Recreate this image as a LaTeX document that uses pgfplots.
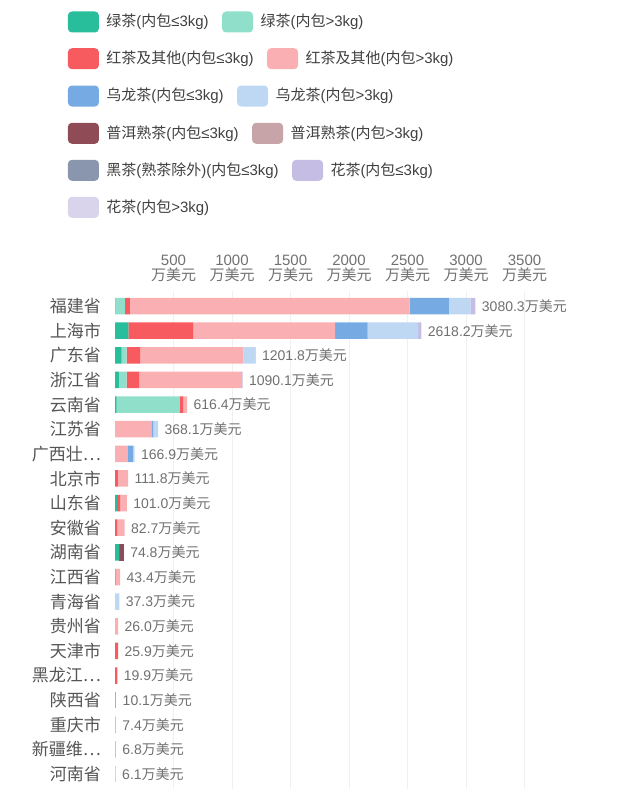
\documentclass[border=0pt]{standalone}
\usepackage{fontspec}
\setmainfont{Liberation Sans}
\newfontfamily\cjk{Noto Sans CJK SC}
\usepackage{pgfplots}
\usepackage{pgfplotstable}
\pgfplotsset{compat=1.18}

\definecolor{cg1}{HTML}{28BE9C}
\definecolor{cg2}{HTML}{8FDFCB}
\definecolor{cr1}{HTML}{F75A5F}
\definecolor{cr2}{HTML}{FAB0B3}
\definecolor{co1}{HTML}{75AAE3}
\definecolor{co2}{HTML}{BED8F4}
\definecolor{cp1}{HTML}{8F4C56}
\definecolor{cp2}{HTML}{C6A4A8}
\definecolor{cb}{HTML}{8A95AE}
\definecolor{cf1}{HTML}{C6BDE5}
\definecolor{cf2}{HTML}{DAD3EC}
\definecolor{legtxt}{HTML}{404040}
\definecolor{labtxt}{HTML}{555555}
\definecolor{ticktxt}{HTML}{707070}
\definecolor{gridc}{HTML}{F0F0F0}

% values in 万美元, rows from top (福建省) to bottom (河南省)
\pgfplotstableread{
y  g1  g2  r1  r2   o1  o2   p1   p2   b  f1   f2   tot
0  3   82  43  2390 336 183  0    0    0  43.3 0    3080.3
1  114 0   556 1211 279 430  0    0    0  28.2 0    2618.2
2  57  43  114 883  0   100  0    0    0  4.8  0    1201.8
3  34  66  108 870  0   0    0    0    0  12.1 0    1090.1
4  14  541 28  33.4 0   0    0    0    0  0    0    616.4
5  0   0   0   310  18  40.1 0    0    0  0    0    368.1
6  0   0   0   110  43  13.9 0    0    0  0    0    166.9
7  0   0   25  86.8 0   0    0    0    0  0    0    111.8
8  15  0   30  56   0   0    0    0    0  0    0    101.0
9  0   0   20  62.7 0   0    0    0    0  0    0    82.7
10 38  0   0   0    0   0    36.8 0    0  0    0    74.8
11 0   0   5   38.4 0   0    0    0    0  0    0    43.4
12 0   0   0   0    0   37.3 0    0    0  0    0    37.3
13 0   0   0   26.0 0   0    0    0    0  0    0    26.0
14 0   0   25.9 0   0   0    0    0    0  0    0    25.9
15 0   0   19.9 0   0   0    0    0    0  0    0    19.9
16 0   0   0   0    0   0    0    10.1 0  0    0    10.1
17 0   0   0   7.4  0   0    0    0    0  0    0    7.4
18 0   0   0   6.8  0   0    0    0    0  0    0    6.8
19 0   0   0   0    0   0    0    0    0  0    6.1  6.1
}\data

\pgfplotsset{frame/.style={
  at={(115pt,-788.8pt)}, anchor=south west,
  scale only axis, width=409.5pt, height=497.5pt,
  xmin=0, xmax=3500, ymin=-0.6, ymax=19.6, y dir=reverse,
  bar width=16.5pt, clip=false}}

\begin{document}
\begin{tikzpicture}[
  swatch/.style={minimum width=31pt, minimum height=21pt, rounded corners=4pt,
    inner sep=0pt, draw=none, anchor=west},
  legtext/.style={anchor=west, inner sep=0pt, text=legtxt,
    font=\fontsize{15}{15}\selectfont}]
\useasboundingbox (0,0) rectangle (639pt,-800pt);

% legend, flowing like the original
\node[swatch, fill=cg1] (a) at (67.7pt,-22pt) {};
\node[legtext] (b) at ([xshift=7pt]a.east) {{\cjk 绿茶}({\cjk 内包}≤3kg)};
\node[swatch, fill=cg2] (c) at ([xshift=13pt]b.east) {};
\node[legtext] at ([xshift=7pt]c.east) {{\cjk 绿茶}({\cjk 内包}>3kg)};

\node[swatch, fill=cr1] (a) at (67.7pt,-58.7pt) {};
\node[legtext] (b) at ([xshift=7pt]a.east) {{\cjk 红茶及其他}({\cjk 内包}≤3kg)};
\node[swatch, fill=cr2] (c) at ([xshift=13pt]b.east) {};
\node[legtext] at ([xshift=7pt]c.east) {{\cjk 红茶及其他}({\cjk 内包}>3kg)};

\node[swatch, fill=co1] (a) at (67.7pt,-96pt) {};
\node[legtext] (b) at ([xshift=7pt]a.east) {{\cjk 乌龙茶}({\cjk 内包}≤3kg)};
\node[swatch, fill=co2] (c) at ([xshift=13pt]b.east) {};
\node[legtext] at ([xshift=7pt]c.east) {{\cjk 乌龙茶}({\cjk 内包}>3kg)};

\node[swatch, fill=cp1] (a) at (67.7pt,-133.3pt) {};
\node[legtext] (b) at ([xshift=7pt]a.east) {{\cjk 普洱熟茶}({\cjk 内包}≤3kg)};
\node[swatch, fill=cp2] (c) at ([xshift=13pt]b.east) {};
\node[legtext] at ([xshift=7pt]c.east) {{\cjk 普洱熟茶}({\cjk 内包}>3kg)};

\node[swatch, fill=cb] (a) at (67.7pt,-170.3pt) {};
\node[legtext] (b) at ([xshift=7pt]a.east) {{\cjk 黑茶}({\cjk 熟茶除外})({\cjk 内包}≤3kg)};
\node[swatch, fill=cf1] (c) at ([xshift=13pt]b.east) {};
\node[legtext] at ([xshift=7pt]c.east) {{\cjk 花茶}({\cjk 内包}≤3kg)};

\node[swatch, fill=cf2] (a) at (67.7pt,-207.3pt) {};
\node[legtext] at ([xshift=7pt]a.east) {{\cjk 花茶}({\cjk 内包}>3kg)};

\begin{axis}[
  frame, xbar stacked,
  axis line style={draw=none}, tick style={draw=none},
  xmajorgrids, grid style={gridc, line width=0.8pt},
  xtick={500,1000,...,3500}, xticklabel pos=upper,
  /pgf/number format/assume math mode=true,
  /pgf/number format/1000 sep={},
  xticklabel={\pgfmathprintnumber{\tick}\\{\cjk 万美元}},
  xticklabel style={align=center, text=ticktxt, inner sep=0pt, yshift=9pt,
    font=\fontsize{15}{15.5}\selectfont},
  ytick={0,1,2,3,4,5,6,7,8,9,10,11,12,13,14,15,16,17,18,19},
  yticklabels={{福建省},{上海市},{广东省},{浙江省},{云南省},{江苏省},{广西壮…},{北京市},{山东省},{安徽省},
    {湖南省},{江西省},{青海省},{贵州省},{天津市},{黑龙江…},{陕西省},{重庆市},{新疆维…},{河南省}},
  yticklabel style={text=labtxt, inner sep=0pt, xshift=-14pt,
    font=\cjk\fontsize{17}{17}\selectfont},
  every axis plot/.append style={draw=none},
]
\addplot[fill=cg1] table[x=g1, y=y]{\data};
\addplot[fill=cg2] table[x=g2, y=y]{\data};
\addplot[fill=cr1] table[x=r1, y=y]{\data};
\addplot[fill=cr2] table[x=r2, y=y]{\data};
\addplot[fill=co1] table[x=o1, y=y]{\data};
\addplot[fill=co2] table[x=o2, y=y]{\data};
\addplot[fill=cp1] table[x=p1, y=y]{\data};
\addplot[fill=cp2] table[x=p2, y=y]{\data};
\addplot[fill=cb]  table[x=b,  y=y]{\data};
\addplot[fill=cf1] table[x=f1, y=y]{\data};
\addplot[fill=cf2] table[x=f2, y=y]{\data};
\end{axis}

% totals at the end of each bar
\begin{axis}[
  frame, xbar, hide axis,
  /pgf/number format/assume math mode=true,
]
\addplot[draw=none, fill=none, point meta=x,
  nodes near coords={\pgfmathprintnumber[fixed, precision=1, zerofill, 1000 sep={}]{\pgfplotspointmeta}{\cjk 万美元}},
  nodes near coords style={anchor=west, xshift=3pt, text=ticktxt,
    font=\fontsize{14}{14}\selectfont}]
  table[x=tot, y=y]{\data};
\end{axis}
\end{tikzpicture}
\end{document}
